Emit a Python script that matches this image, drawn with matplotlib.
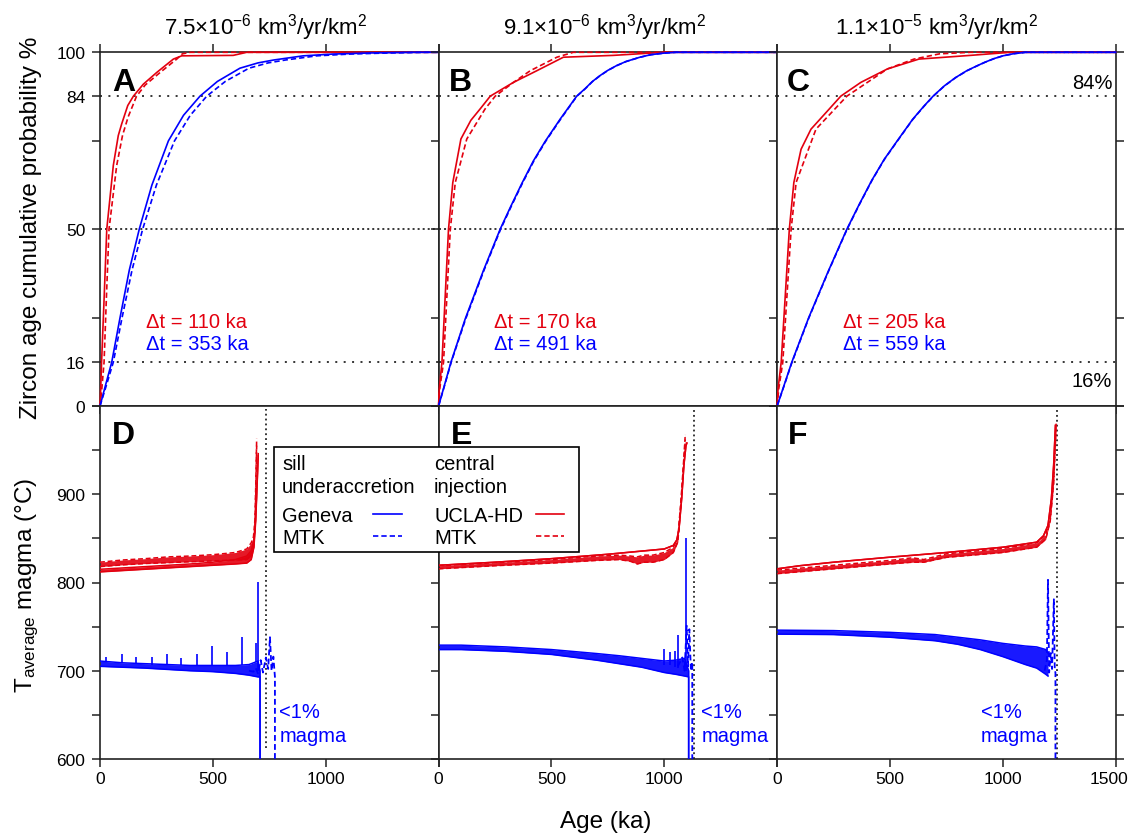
import numpy as np
import matplotlib
matplotlib.use('Agg')
import matplotlib.pyplot as plt
from matplotlib.lines import Line2D
from matplotlib.patches import Rectangle
from matplotlib.transforms import ScaledTranslation

plt.rcParams['font.family'] = ['Liberation Sans', 'DejaVu Sans']
plt.rcParams['mathtext.fontset'] = 'custom'
plt.rcParams['mathtext.rm'] = 'Liberation Sans'
plt.rcParams['mathtext.it'] = 'Liberation Sans:italic'
plt.rcParams['mathtext.bf'] = 'Liberation Sans:bold'

# ---------------- data ----------------
panel_titles = ['7.5×10$^{\\mathrm{-6}}$ km$^{\\mathrm{3}}$/yr/km$^{\\mathrm{2}}$',
                '9.1×10$^{\\mathrm{-6}}$ km$^{\\mathrm{3}}$/yr/km$^{\\mathrm{2}}$',
                '1.1×10$^{\\mathrm{-5}}$ km$^{\\mathrm{3}}$/yr/km$^{\\mathrm{2}}$']
top_letters = ['A', 'B', 'C']
bottom_letters = ['D', 'E', 'F']
dt_red = ['Δt = 110 ka', 'Δt = 170 ka', 'Δt = 205 ka']
dt_blue = ['Δt = 353 ka', 'Δt = 491 ka', 'Δt = 559 ka']

prob_ref_levels = [16, 50, 84]

# cumulative zircon age distributions (age ka, cumulative %)
A_ucla_age = [0, 3, 7, 18, 30, 59, 81, 96, 123, 148, 192, 251, 325, 362, 590, 650, 1500]
A_ucla_p = [0, 7, 16, 33, 50, 65.3, 72.9, 76, 81.2, 84, 87.8, 91.8, 97, 98.4, 98.6, 100, 100]
A_mtkc_age = [0, 8, 18, 28, 40, 74, 100, 125, 162, 200, 266, 340, 365, 400, 1500]
A_mtkc_p = [0, 7, 16, 33, 50, 65.3, 73, 78, 84, 87.5, 91.8, 97, 99.3, 100, 100]
A_gen_age = [0, 25, 52, 89, 130, 174, 230, 303, 370, 443, 520, 620, 700, 768, 900, 1034, 1200, 1400, 1500]
A_gen_p = [0, 8.55, 16, 28.5, 40.3, 50, 60.5, 71.5, 78.4, 84, 88.7, 93.4, 95.45, 96.6, 98.4, 99.2, 99.7, 100, 100]
A_mtks_age = [0, 29, 59, 98, 142, 189, 250, 330, 400, 473, 555, 660, 745, 820, 960, 1108, 1280, 1450, 1500]
A_mtks_p = [0, 8.55, 16, 28.5, 40.3, 50, 60.5, 71.5, 78.4, 84, 88.7, 93.4, 95.45, 96.6, 98.4, 99.2, 99.7, 100, 100]

B_ucla_age = [0, 3, 15, 44, 63, 99, 143, 184, 229, 332, 435, 553, 774, 996, 1500]
B_ucla_p = [0, 7, 16, 50, 61.1, 72, 77, 80.2, 84, 88.4, 92.45, 97.8, 98.6, 100, 100]
B_mtkc_age = [0, 5, 22, 52, 74, 125, 206, 251, 332, 406, 524, 597, 1500]
B_mtkc_p = [0, 7, 16, 50, 61.1, 72, 80.2, 84, 88.4, 92.45, 97.8, 100, 100]
B_gen_age = [0, 30, 55, 118, 199, 273, 320, 370, 420, 472, 540, 612, 650, 680, 715, 750, 789, 830, 892, 940, 996, 1050, 1500]
B_gen_p = [0, 9.5, 16, 28.1, 40.2, 50, 55.4, 61, 66.4, 71.35, 77.45, 84, 86.4, 88.6, 90.7, 92.6, 94.4, 96, 97.8, 98.9, 99.6, 100, 100]
B_mtks_age = [0, 31, 56, 120, 201, 275, 322, 372, 422, 474, 542, 613, 651, 681, 716, 751, 790, 831, 893, 941, 997, 1050, 1500]
B_mtks_p = [0, 9.5, 16, 28.1, 40.2, 50, 55.4, 61, 66.4, 71.35, 77.45, 84, 86.4, 88.6, 90.7, 92.6, 94.4, 96, 97.8, 98.9, 99.6, 100, 100]

C_ucla_age = [0, 4, 18, 54, 74, 106, 150, 231, 282, 371, 488, 628, 856, 1032, 1500]
C_ucla_p = [0, 7, 16, 50, 61.1, 69.35, 74.6, 80.2, 84, 88.4, 93.1, 97, 98.6, 100, 100]
C_mtkc_age = [0, 7, 25, 62, 84, 172, 309, 400, 488, 606, 720, 856, 1500]
C_mtkc_p = [0, 7, 16, 50, 61.1, 74.6, 84, 88.4, 93.1, 97, 99.3, 100, 100]
C_gen_age = [0, 35, 65, 140, 225, 309, 365, 420, 475, 532, 600, 650, 691, 740, 790, 840, 878, 920, 959, 1000, 1047, 1100, 1500]
C_gen_p = [0, 9.4, 16, 28.45, 39.8, 50, 56, 61.7, 66.85, 71.5, 77.25, 81, 84, 87.2, 90, 92.45, 94, 95.7, 97.15, 98.4, 99.35, 100, 100]
C_mtks_age = [0, 36, 66, 141, 226, 310, 366, 421, 476, 533, 601, 651, 692, 741, 791, 841, 879, 921, 960, 1001, 1048, 1100, 1500]
C_mtks_p = [0, 9.4, 16, 28.45, 39.8, 50, 56, 61.7, 66.85, 71.5, 77.25, 81, 84, 87.2, 90, 92.45, 94, 95.7, 97.15, 98.4, 99.35, 100, 100]

# average magma temperature (age ka, lower / upper envelope of oscillations, deg C)
D_ucla_age = [0, 100, 200, 300, 400, 500, 600, 650, 670, 682, 690, 696, 701]
D_ucla_lo = [812, 813.5, 815, 816.5, 818, 819.5, 821, 822, 826, 840, 870, 910, 944]
D_ucla_hi = [815, 816.5, 818, 819.5, 821, 823, 826, 830, 836, 848, 875, 912, 946]
D_mtkc_age = [0, 100, 200, 300, 400, 500, 600, 650, 670, 680, 686, 690, 694]
D_mtkc_lo = [818, 820, 821.5, 822.5, 823.5, 824.5, 825.5, 826, 830, 840, 860, 900, 955]
D_mtkc_hi = [823, 825.5, 827, 829, 830, 831.5, 834, 838, 845, 852, 870, 910, 963]
D_gen_age = [0, 100, 200, 300, 400, 500, 600, 660, 700, 709, 709]
D_gen_lo = [705, 704, 703, 701.5, 700, 699, 697, 695, 693, 693, 600]
D_gen_hi = [711, 709, 708, 707, 706, 706, 706, 707, 711, 700, 600]
D_gen_spike_age = [27, 96, 160, 229, 298, 359, 428, 498, 561, 628, 691, 699]
D_gen_spike_base = [710, 709, 708, 707, 706, 706, 706, 706, 706, 707, 710, 700]
D_gen_spike_top = [716, 719, 716, 716, 719, 715, 719, 728, 721, 738, 732, 801]
D_mtks_age = [660, 680, 690, 700, 712, 722, 735, 745, 753, 760, 768, 775, 775]
D_mtks_T = [700, 699, 703, 697, 712, 698, 715, 702, 738, 700, 716, 693, 600]

E_ucla_age = [0, 250, 500, 750, 1000, 1040, 1055, 1065, 1077, 1087, 1096, 1100]
E_ucla_T = [819.5, 823, 827, 832, 838, 842, 848, 860, 895, 933, 955, 958]
E_mtkc_age = [0, 250, 500, 700, 800, 850, 880, 910, 950, 1000, 1040, 1060, 1075, 1085, 1093]
E_mtkc_lo = [815.5, 819, 822, 825, 826, 824, 821, 823, 823, 826, 834, 846, 893, 931, 962]
E_mtkc_hi = [819, 822.5, 826, 830, 831, 830, 829, 831, 831, 834, 840, 850, 897, 935, 968]
E_gen_age = [0, 100, 300, 500, 700, 800, 900, 1000, 1050, 1090, 1108, 1108]
E_gen_lo = [724, 724, 722, 718.5, 712, 708, 704, 698, 696, 694, 693, 600]
E_gen_hi = [729, 729, 727, 724, 719.5, 717, 714, 711, 712, 714, 700, 600]
E_gen_spike_age = [997, 1027, 1047, 1062, 1094]
E_gen_spike_base = [707, 706, 704, 703, 700]
E_gen_spike_top = [725, 721, 722, 740, 850]
E_mtks_age = [1060, 1080, 1090, 1099, 1105, 1111, 1118, 1124, 1124]
E_mtks_T = [705, 715, 700, 751, 705, 747, 700, 710, 600]

F_ucla_age = [0, 100, 250, 500, 750, 1000, 1150, 1180, 1200, 1215, 1225, 1233]
F_ucla_T = [815.5, 819, 823, 828.7, 834, 840, 845.7, 853, 864.7, 895, 932.7, 978]
F_mtkc_age = [0, 250, 500, 600, 650, 750, 1000, 1150, 1190, 1210, 1225, 1236]
F_mtkc_lo = [810, 815.5, 821, 823, 823, 828.5, 834, 840, 849, 870, 912, 976]
F_mtkc_hi = [814, 819.5, 825, 828, 826, 832.5, 838.5, 845, 854, 874, 916, 980]
F_gen_age = [0, 250, 500, 700, 800, 900, 1000, 1100, 1150, 1190, 1200]
F_gen_lo = [741.5, 741, 738, 734, 730, 724, 716, 707, 703, 696, 694]
F_gen_hi = [746, 745.5, 743.5, 741, 738, 735, 731, 728, 727, 724, 720]
F_mtks_age = [1185, 1195, 1200, 1205, 1212, 1218, 1226, 1230, 1233, 1233]
F_mtks_T = [700, 712, 803, 698, 720, 702, 781, 700, 698, 600]

last_magma_age = [734, 1130, 1239]
last_magma_Tmin = [612, 600, 600]

# ---------------- style ----------------
RED = '#e3000f'
BLUE = '#0000ff'
SPINE = '#222222'
DASH = (0, (3.2, 1.8))
W, H = 1131, 837

def fx(px):
    return px / W

def fy(py):
    return 1 - py / H

def _fwd(p):
    x = (np.asarray(p, dtype=float) - 50.0) / 50.0
    return 0.5 + 0.5985 * x - 0.0985 * x ** 3

_grid = np.linspace(-20, 120, 4001)
def _inv(f):
    return np.interp(np.asarray(f, dtype=float), _fwd(_grid), _grid)

fig = plt.figure(figsize=(W / 100, H / 100), dpi=100)

lefts = [100, 438.57, 777.14]
width = 338.57
top_axes, bot_axes = [], []
for i in range(3):
    top_axes.append(fig.add_axes([fx(lefts[i]), fy(407), width / W, 353.7 / H]))
    bot_axes.append(fig.add_axes([fx(lefts[i]), fy(760), width / W, 353 / H]))

top_data = [
    [(A_ucla_age, A_ucla_p, RED, '-'), (A_mtkc_age, A_mtkc_p, RED, '--'),
     (A_gen_age, A_gen_p, BLUE, '-'), (A_mtks_age, A_mtks_p, BLUE, '--')],
    [(B_ucla_age, B_ucla_p, RED, '-'), (B_mtkc_age, B_mtkc_p, RED, '--'),
     (B_gen_age, B_gen_p, BLUE, '-'), (B_mtks_age, B_mtks_p, BLUE, '--')],
    [(C_ucla_age, C_ucla_p, RED, '-'), (C_mtkc_age, C_mtkc_p, RED, '--'),
     (C_gen_age, C_gen_p, BLUE, '-'), (C_mtks_age, C_mtks_p, BLUE, '--')],
]

mid_ticks = list(_inv([0.25, 0.75]))
dt_x = [0.135, 0.163, 0.194]

for i, ax in enumerate(top_axes):
    ax.set_yscale('function', functions=(_fwd, _inv))
    ax.set_xlim(0, 1500)
    ax.set_ylim(0, 100)
    for lev in prob_ref_levels:
        ls = (0, (1.3, 2.0)) if lev == 50 else (0, (1.3, 4.2))
        ax.axhline(lev, color='black', lw=1.1, ls=ls, zorder=1)
    for age, p, c, ls in top_data[i]:
        dash = DASH if ls == '--' else '-'
        ax.plot(age, p, color=c, ls=dash, lw=1.2, zorder=3, clip_on=False)
    ax.set_xticks([0, 500, 1000, 1500])
    ax.tick_params(axis='x', which='both', direction='out', top=True, bottom=True,
                   labelbottom=False, length=5.5, width=1.1, color=SPINE)
    if i == 0:
        ax.set_yticks([0, 16, mid_ticks[0], 50, mid_ticks[1], 84, 100])
        ax.set_yticklabels(['0', '16', '', '50', '', '84', '100'])
    else:
        ax.set_yticks([0, mid_ticks[0], 50, mid_ticks[1], 100])
        ax.set_yticklabels([])
    ax.yaxis.set_minor_locator(matplotlib.ticker.NullLocator())
    ax.tick_params(axis='y', which='both', direction='out', left=True, right=(i == 2),
                   length=5.5, width=1.1, color=SPINE, labelsize=12.5, pad=5)
    ax.text(dt_x[i], 0.222, dt_red[i], color=RED, fontsize=14.5,
            transform=ax.transAxes, va='baseline', ha='left')
    ax.text(dt_x[i], 0.160, dt_blue[i], color=BLUE, fontsize=14.5,
            transform=ax.transAxes, va='baseline', ha='left')
    ax.text([0.036, 0.03, 0.027][i], 0.893, top_letters[i], fontsize=23,
            fontweight='bold', transform=ax.transAxes, va='baseline', ha='left')

ytr = top_axes[2].get_yaxis_transform()
top_axes[2].text(0.99, _inv(0.888), '84%', transform=ytr, ha='right', va='bottom',
                 fontsize=14.5)
top_axes[2].text(0.99, _inv(0.0985), '16%', transform=ytr, ha='right', va='top',
                 fontsize=14.5)

bot_data = [
    dict(ucla=(D_ucla_age, D_ucla_lo, D_ucla_hi), mtkc=(D_mtkc_age, D_mtkc_lo, D_mtkc_hi),
         gen=(D_gen_age, D_gen_lo, D_gen_hi),
         spikes=(D_gen_spike_age, D_gen_spike_base, D_gen_spike_top),
         mtks=(D_mtks_age, D_mtks_T)),
    dict(ucla=(E_ucla_age, E_ucla_T, E_ucla_T), mtkc=(E_mtkc_age, E_mtkc_lo, E_mtkc_hi),
         gen=(E_gen_age, E_gen_lo, E_gen_hi),
         spikes=(E_gen_spike_age, E_gen_spike_base, E_gen_spike_top),
         mtks=(E_mtks_age, E_mtks_T)),
    dict(ucla=(F_ucla_age, F_ucla_T, F_ucla_T), mtkc=(F_mtkc_age, F_mtkc_lo, F_mtkc_hi),
         gen=(F_gen_age, F_gen_lo, F_gen_hi),
         spikes=([], [], []),
         mtks=(F_mtks_age, F_mtks_T)),
]

def band(ax, age, lo, hi, color, ls):
    ax.fill_between(age, lo, hi, color=color, alpha=0.9, lw=0, zorder=2)
    ax.plot(age, lo, color=color, ls=ls, lw=1.1, zorder=3)
    ax.plot(age, hi, color=color, ls=ls, lw=1.1, zorder=3)

magma_x = [794, 1164, 903]
for i, ax in enumerate(bot_axes):
    ax.set_xlim(0, 1500)
    ax.set_ylim(600, 1000)
    d = bot_data[i]
    ax.plot([last_magma_age[i]] * 2, [last_magma_Tmin[i], 997], color='black',
            lw=1.1, ls=(0, (1.2, 2.0)), zorder=1)
    band(ax, *d['gen'], BLUE, '-')
    ax.vlines(d['spikes'][0], d['spikes'][1], d['spikes'][2], color=BLUE, lw=1.2, zorder=3)
    ax.plot(*d['mtks'], color=BLUE, ls=DASH, lw=1.3, zorder=3)
    band(ax, *d['mtkc'], RED, DASH)
    band(ax, *d['ucla'], RED, '-')
    ax.set_xticks([0, 500, 1000, 1500])
    ax.set_xticklabels(['0', '500', '1000', '1500' if i == 2 else ''])
    ax.tick_params(axis='x', direction='out', top=False, bottom=True, length=5.5,
                   width=1.1, color=SPINE, labelsize=12.5, pad=3)
    ax.set_yticks(np.arange(600, 1001, 50))
    if i == 0:
        ax.set_yticklabels(['600', '', '700', '', '800', '', '900', '', ''])
    else:
        ax.set_yticklabels([])
    ax.tick_params(axis='y', direction='out', left=True, right=(i == 2), length=5.5,
                   width=1.1, color=SPINE, labelsize=12.5, pad=5)
    ax.text([0.036, 0.035, 0.033][i], 0.894, bottom_letters[i], fontsize=23,
            fontweight='bold', transform=ax.transAxes, va='baseline', ha='left')
    ax.text(magma_x[i], 647.5, '<1%', color=BLUE, fontsize=14.5, va='baseline', ha='left')
    ax.text(magma_x[i], 620.5, 'magma', color=BLUE, fontsize=14.5, va='baseline', ha='left')

for ax in top_axes + bot_axes:
    for s in ax.spines.values():
        s.set_color(SPINE)
        s.set_linewidth(1.2)

# shift the last "1500" label a little left so that it stays inside the picture
lbl = bot_axes[2].get_xticklabels()[-1]
lbl.set_transform(lbl.get_transform() + ScaledTranslation(-0.07, 0, fig.dpi_scale_trans))

# titles and axis labels
title_cx = [266, 605, 937]
for i in range(3):
    fig.text(fx(title_cx[i]), fy(34.5), panel_titles[i], ha='center', va='baseline',
             fontsize=16)
fig.text(fx(31), fy(228), 'Zircon age cumulative probability %', rotation=90,
         ha='center', va='center', fontsize=17.5)
fig.text(fx(27), fy(585), 'T$_{\\mathrm{average}}$ magma (°C)', rotation=90,
         ha='center', va='center', fontsize=17.5)
fig.text(fx(606), fy(822), 'Age (ka)', ha='center', va='center', fontsize=17.5)

# legend box
fig.add_artist(Rectangle((fx(274.3), fy(553.3)), (579 - 274.3) / W, (553.3 - 448.3) / H,
                         transform=fig.transFigure, facecolor='white',
                         edgecolor='black', lw=1.2, zorder=5))
leg_fs = 14.5
fig.text(fx(282), fy(470), 'sill', fontsize=leg_fs, va='baseline', zorder=6)
fig.text(fx(282), fy(493), 'underaccretion', fontsize=leg_fs, va='baseline', zorder=6)
fig.text(fx(282), fy(522), 'Geneva', fontsize=leg_fs, va='baseline', zorder=6)
fig.text(fx(282), fy(544), 'MTK', fontsize=leg_fs, va='baseline', zorder=6)
fig.text(fx(434), fy(470), 'central', fontsize=leg_fs, va='baseline', zorder=6)
fig.text(fx(434), fy(493), 'injection', fontsize=leg_fs, va='baseline', zorder=6)
fig.text(fx(434), fy(522), 'UCLA-HD', fontsize=leg_fs, va='baseline', zorder=6)
fig.text(fx(434), fy(544), 'MTK', fontsize=leg_fs, va='baseline', zorder=6)
for (x0, x1, y, c, ls) in [(373, 402, 515, BLUE, '-'), (373, 402, 537, BLUE, DASH),
                           (536, 564, 515, RED, '-'), (536, 564, 537, RED, DASH)]:
    fig.add_artist(Line2D([fx(x0), fx(x1)], [fy(y), fy(y)], color=c, ls=ls, lw=1.2,
                          transform=fig.transFigure, zorder=6))

fig.savefig('out.png', dpi=100)
